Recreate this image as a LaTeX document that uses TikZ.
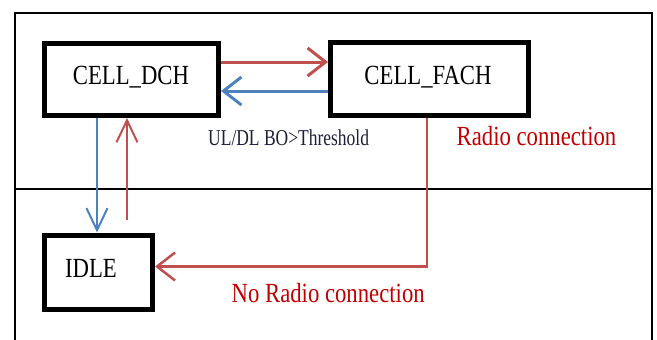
\documentclass[tikz,border=0pt]{standalone}
\usepackage{fontspec}
\setmainfont{Liberation Serif}[FakeStretch=0.82]
\newfontfamily\condfont{Liberation Serif}[FakeStretch=0.77]
\usetikzlibrary{arrows.meta}
\definecolor{lred}{HTML}{C0504D}
\definecolor{lblue}{HTML}{4F81BD}
\definecolor{tred}{HTML}{C00000}
\definecolor{tnavy}{HTML}{1F1F3A}
\begin{document}
\begin{tikzpicture}[x=1pt,y=-1pt,
  statebox/.style={draw=black,line width=5pt,minimum width=#1,inner sep=0pt},
  boxtext/.style={anchor=base,inner sep=0pt,font=\fontsize{27.7}{28}\selectfont},
  redtext/.style={anchor=base west,inner sep=0pt,text=tred,font=\fontsize{27.7}{28}\selectfont},
  hhead/.style={-{Straight Barb[length=18pt,width=28pt]}},
  vhead/.style={-{Straight Barb[length=22pt,width=21pt]}},
  redline/.style={draw=lred,line width=#1},
  blueline/.style={draw=lblue,line width=#1}]
\useasboundingbox (0,0) rectangle (657,340);
% frame
\draw[line width=2pt] (15,340) -- (15,12.5) -- (652,12.5) -- (652,340);
\draw[line width=2pt] (15,188.5) -- (652,188.5);
% boxes
\node[statebox=174.5pt,minimum height=72.5pt] (dch) at (131.25,79.25) {};
\node[statebox=198pt,minimum height=73.5pt] (fach) at (429.5,78.75) {};
\node[statebox=108.5pt,minimum height=74pt] (idle) at (98.25,272) {};
% texts
\node[boxtext] (dchT) at (131,84) {CELL\_DCH};
\node[boxtext] (fachT) at (428,84) {CELL\_FACH};
\node[boxtext] (idleT) at (91,277) {IDLE};
\node[anchor=base west,inner sep=0pt,text=tnavy,font=\condfont\fontsize{22.7}{23}\selectfont] (thr) at (208,145) {UL/DL BO>Threshold};
\node[redtext] (rc) at (456.5,145) {Radio connection};
\node[redtext] (nrc) at (231.5,302.5) {No Radio connection};
% helper coordinates
\coordinate (yr) at (0,62);
\coordinate (yb) at (0,91);
\coordinate (xb) at (97,0);
\coordinate (xr) at (127,0);
\coordinate (xf) at (427,0);
\coordinate (rstart) at (127,220);
\coordinate (corner) at (427,266.5);
% connectors
\draw[redline=3pt,hhead] (dch.east |- yr) -- (fach.west |- yr);
\draw[blueline=3pt,hhead] (fach.west |- yb) -- (dch.east |- yb);
\draw[blueline=2pt,vhead] (dch.south -| xb) -- (idle.north -| xb);
\draw[redline=2pt,vhead] (rstart) -- (dch.south -| xr);
\draw[redline=2.5pt,hhead] (fach.south -| xf) -- (corner) -- (idle.east |- corner);
\end{tikzpicture}
\end{document}
